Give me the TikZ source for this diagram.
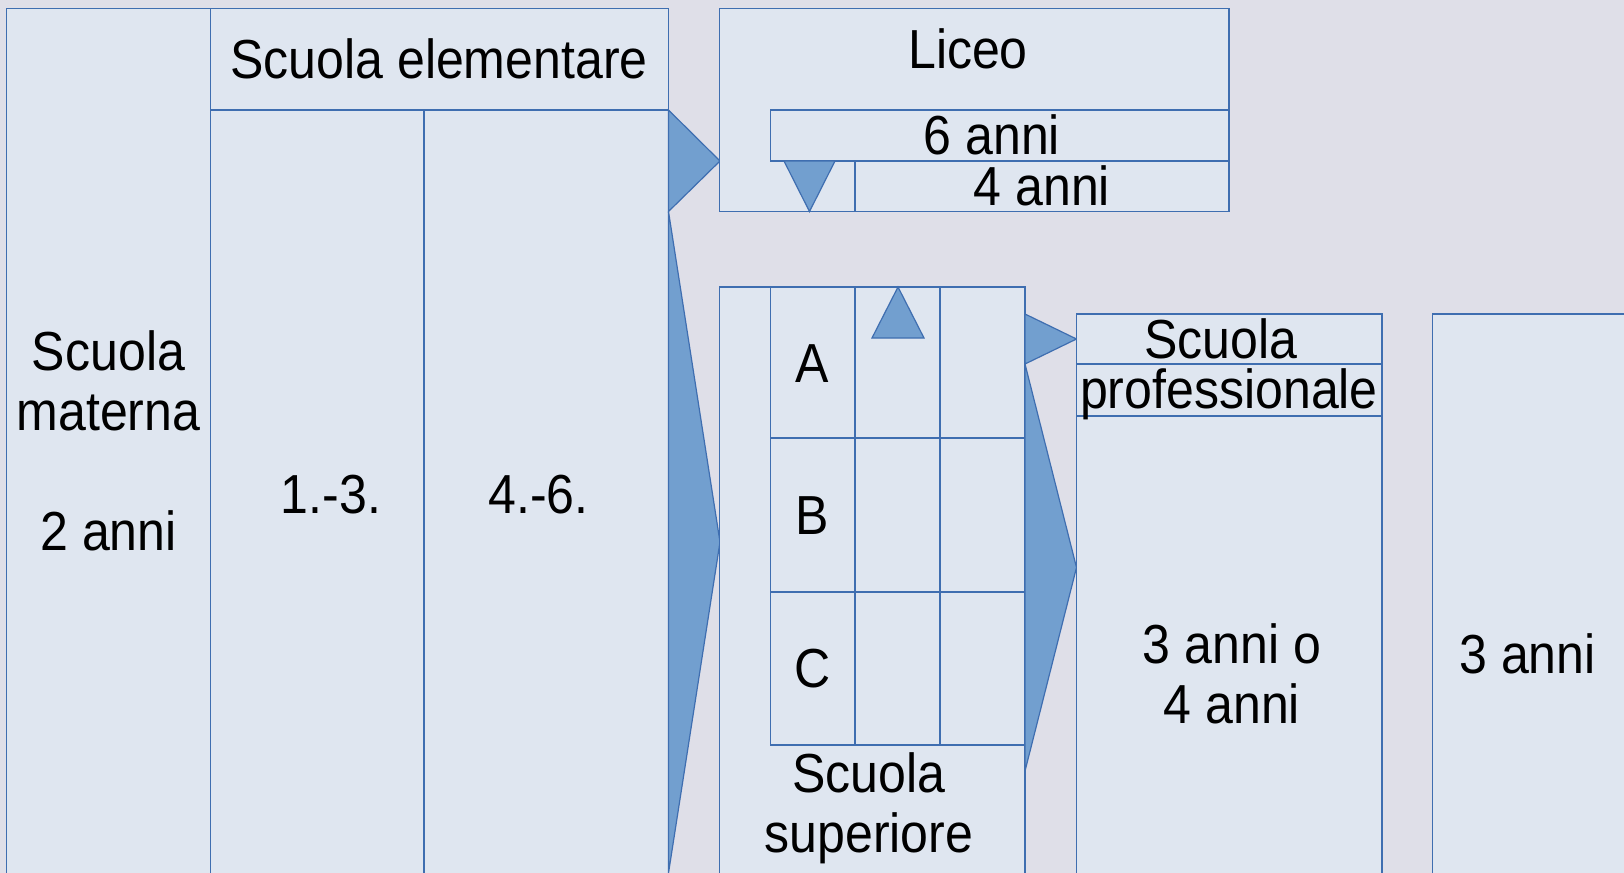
\documentclass[tikz,border=0pt]{standalone}
\usepackage{fontspec}
\setmainfont{Liberation Sans}[FakeStretch=0.91]
\usepackage{tikz}
\usetikzlibrary{calc}
\definecolor{bgcol}{HTML}{DFDFE8}
\definecolor{boxfill}{HTML}{DFE6F0}
\definecolor{boxline}{HTML}{3F6EB0}
\definecolor{trifill}{HTML}{729FCF}
\tikzset{
 box/.style={draw=boxline, fill=boxfill, line width=0.6pt},
 tri/.style={draw=boxline, fill=trifill, line width=0.6pt},
 lbl/.style={font=\fontsize{27.5}{30}\selectfont, align=center, inner sep=0}
}

\begin{document}
\begin{tikzpicture} [x=0.5pt,y=-0.5pt]
\fill[bgcol] (0,0) rectangle (1624,873);
\useasboundingbox (0,0) rectangle (1624,873);
% scuola materna
\draw[box] (6.5,8.3) rectangle (210.5,880);
\node[lbl] (materna) at (108.5,441) {Scuola\\materna\\[30pt]2 anni};
% scuola elementare
\draw[box] (210.5,8.3) rectangle (668.5,110);
\draw[box] (210.5,110) rectangle (424,880);
\draw[box] (424,110) rectangle (668.5,880);
\node[lbl, anchor=base] (elem) at (439,78) {Scuola elementare};
\node[lbl, anchor=base] (cl13) at (331,513) {1.-3.};
\node[lbl, anchor=base] (cl46) at (538.6,513) {4.-6.};
\draw[tri] (668.5,110) -- (720,161) -- (668.5,211.5) -- cycle;
\draw[tri] (668.5,211.5) -- (720,542) -- (668.5,873) -- cycle;
% liceo
\draw[box] (719.5,8.3) rectangle (1229,211.5);
\draw[box] (770.5,110) rectangle (1229,161);
\draw[box] (855,161) rectangle (1229,211.5);
\node[lbl, anchor=base] (liceo) at (968,68) {Liceo};
\node[lbl, anchor=base] (sei) at (992,154) {6 anni};
\node[lbl, anchor=base] (quattro) at (1042,205) {4 anni};
\draw[tri] (784,161) -- (835,161) -- (809.5,211.5) -- cycle;
% scuola superiore
\draw[box] (719.5,287) rectangle (1025,880);
\foreach \xa/\xb in {770.5/855, 855/940, 940/1025} {
 \foreach \ya/\yb in {287/438, 438/592, 592/745} {
  \draw[box] (\xa,\ya) rectangle (\xb,\yb);
 }
}
\foreach \t/\y in {A/382, B/534, C/687} {
 \node[lbl, anchor=base] (rama\t) at (812.5,\y) {\t};
}
\node[lbl] (sup) at (869,808) {Scuola\\superiore};
\draw[tri] (872,338) -- (924,338) -- (898,287) -- cycle;
\draw[tri] (1025,314) -- (1076.5,339) -- (1025,364) -- cycle;
\draw[tri] (1025,364) -- (1076.5,567.5) -- (1025,771) -- cycle;
% scuola professionale
\draw[box] (1076.5,314) rectangle (1382,880);
\draw[box] (1076.5,314) rectangle (1382,364);
\draw[box] (1076.5,364) rectangle (1382,416);
\node[lbl, anchor=base] (prof1) at (1221,358) {Scuola};
\node[lbl, anchor=base] (prof2) at (1229,408) {professionale};
\node[lbl] (profdur) at (1232,674) {3 anni o\\4 anni};
% ultima colonna
\draw[box] (1432.5,314) rectangle (1640,880);
\node[lbl, anchor=base] (ultimo) at (1527.6,673) {3 anni};
\end{tikzpicture}
\end{document}
